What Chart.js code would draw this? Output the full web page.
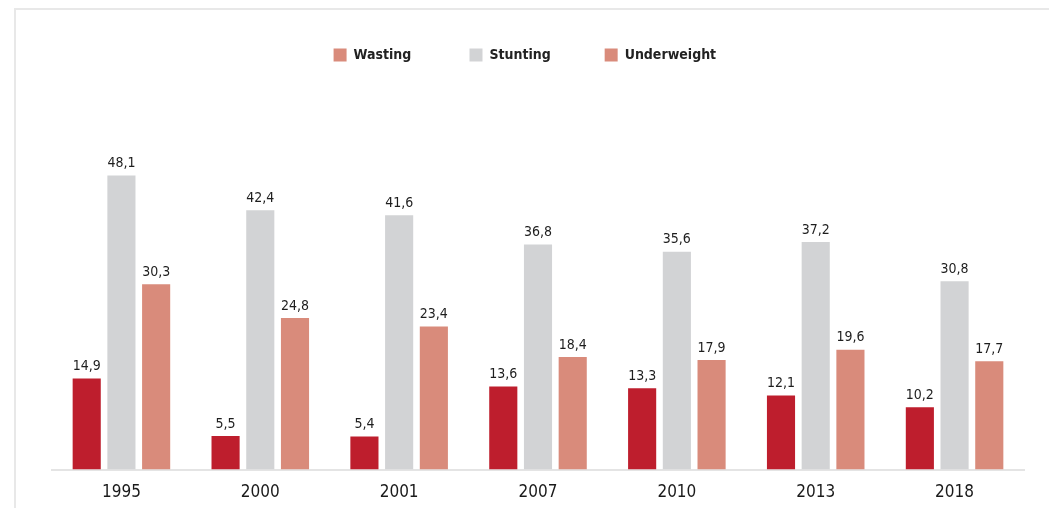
<!DOCTYPE html>
<html>
<head>
<meta charset="utf-8">
<script src="https://cdn.jsdelivr.net/npm/chart.js@4.4.1/dist/chart.umd.min.js"></script>
<style>
html, body { margin: 0; padding: 0; background: #fff; }
#wrap { position: relative; width: 1049px; height: 508px; overflow: hidden; }
#frame { position: absolute; left: 14px; top: 8px; right: -4px; bottom: -4px; border-left: 2px solid #e8e8e8; border-top: 2px solid #e8e8e8; }
#mychart { position: absolute; left: 0; top: 0; }
</style>
</head>
<body>
<div id="wrap">
	<div id="frame"></div>
	<canvas id="mychart" width="1049" height="508"></canvas>
</div>
<script>
var years = ['1995', '2000', '2001', '2007', '2010', '2013', '2018'];
var wasting = [14.9, 5.5, 5.4, 13.6, 13.3, 12.1, 10.2];
var stunting = [48.1, 42.4, 41.6, 36.8, 35.6, 37.2, 30.8];
var underweight = [30.3, 24.8, 23.4, 18.4, 17.9, 19.6, 17.7];

var seriesNames = ['Wasting', 'Stunting', 'Underweight'];
var barColors = ['#be1e2d', '#d2d3d5', '#d98b7b'];
// the original legend shows Wasting with the salmon swatch
var legendColors = ['#d98b7b', '#d2d3d5', '#d98b7b'];
// spaces after each legend text, to spread the items like the original
var legendGaps = [11, 10, 6];

var font = '"DejaVu Sans Condensed", "DejaVu Sans", sans-serif';

// values above the bars, decimal comma
var valueLabels = {
	id: 'valueLabels',
	afterDatasetsDraw: function(chart) {
		var ctx = chart.ctx;
		ctx.save();
		ctx.font = '14px ' + font;
		ctx.fillStyle = '#1e1e1e';
		ctx.textAlign = 'center';
		ctx.textBaseline = 'bottom';
		chart.data.datasets.forEach(function(ds, i) {
			chart.getDatasetMeta(i).data.forEach(function(bar, j) {
				ctx.fillText(String(ds.data[j]).replace('.', ','), bar.x, bar.y - 5);
			});
		});
		ctx.restore();
	}
};

var chartdata = {
	labels: years,
	datasets: [
		{ label: seriesNames[0], data: wasting, backgroundColor: barColors[0] },
		{ label: seriesNames[1], data: stunting, backgroundColor: barColors[1] },
		{ label: seriesNames[2], data: underweight, backgroundColor: barColors[2] }
	]
};

var ctx = document.getElementById('mychart');

var barGraph = new Chart(ctx, {
	type: 'bar',
	data: chartdata,
	plugins: [valueLabels],
	options: {
		responsive: false,
		animation: false,
		devicePixelRatio: 1,
		categoryPercentage: 0.75,
		barPercentage: 0.81,
		layout: { padding: { left: 52, right: 25, top: 38, bottom: -8 } },
		plugins: {
			tooltip: { enabled: false },
			legend: {
				position: 'top',
				labels: {
					boxWidth: 13,
					boxHeight: 13,
					padding: 10,
					color: '#222',
					font: { family: font, size: 14, weight: 'bold' },
					generateLabels: function(chart) {
						return chart.data.datasets.map(function(ds, i) {
							return {
								text: ds.label + ' '.repeat(legendGaps[i]),
								fillStyle: legendColors[i],
								strokeStyle: legendColors[i],
								lineWidth: 0,
								fontColor: '#222',
								hidden: false,
								datasetIndex: i
							};
						});
					}
				}
			}
		},
		scales: {
			x: {
				grid: { display: false, drawTicks: false },
				border: { display: true, color: '#e4e4e4', width: 2 },
				ticks: { color: '#1a1a1a', padding: 13, font: { family: font, size: 17 } }
			},
			y: {
				display: false,
				min: 0,
				max: 65
			}
		}
	}
});
</script>
</body>
</html>
